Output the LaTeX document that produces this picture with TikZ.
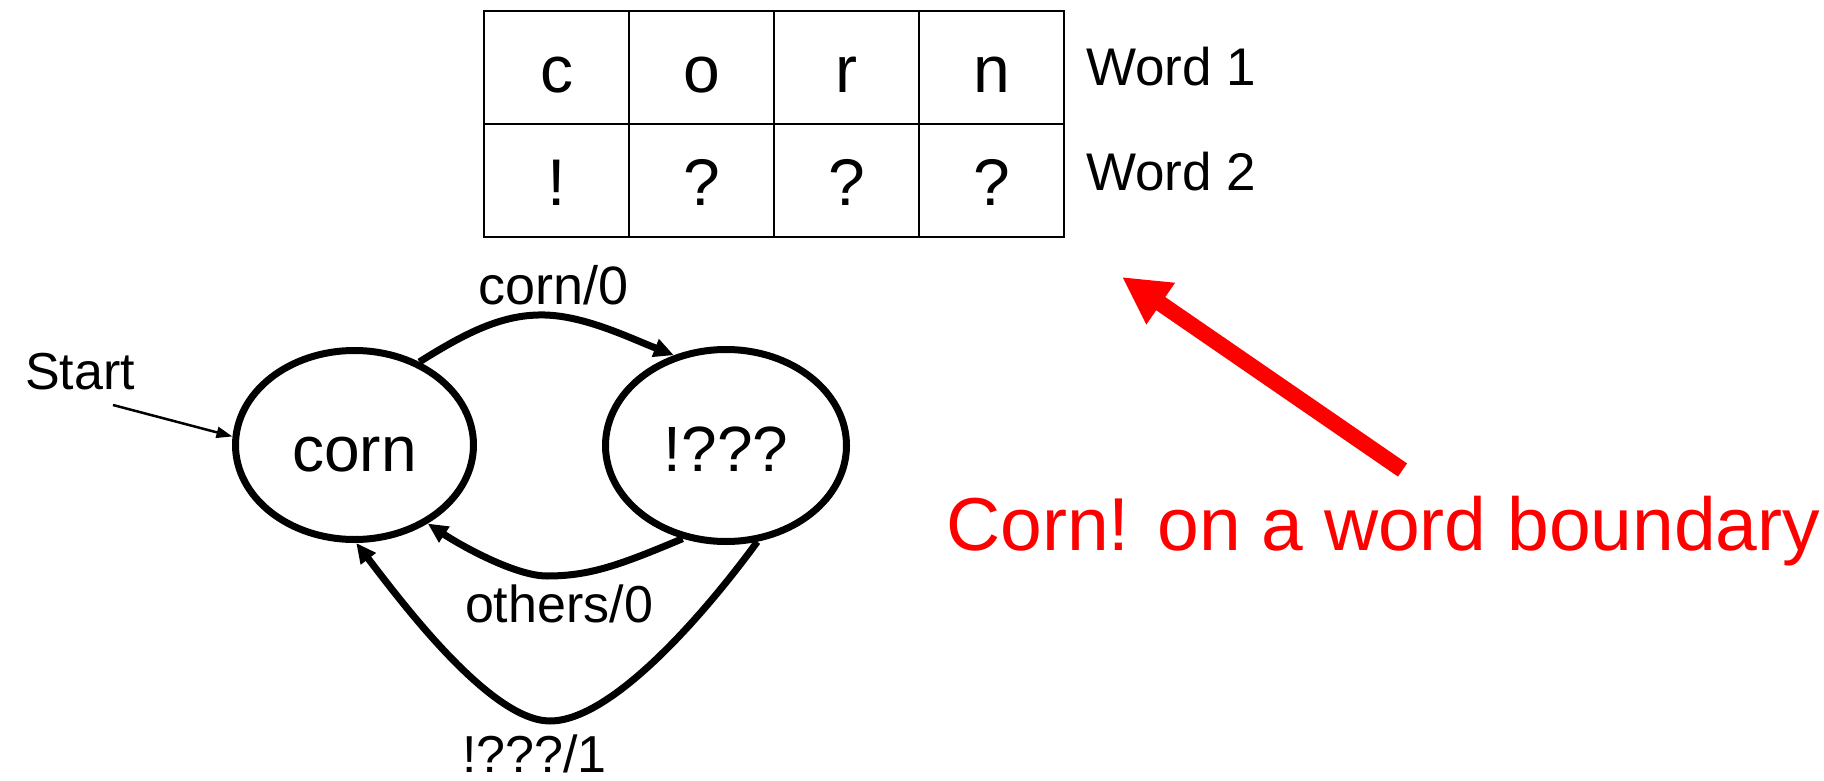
\documentclass[tikz,border=0pt]{standalone}
\usepackage{fontspec}
\setmainfont{Liberation Sans}
\usetikzlibrary{arrows.meta,shapes.geometric}
\newcommand{\fsz}[1]{\fontsize{#1pt}{#1pt}\selectfont}
\begin{document}
\begin{tikzpicture}[x=1pt,y=-1pt,
  cell/.style={draw, line width=2pt, minimum width=145pt, minimum height=113pt, inner sep=0pt, text height=50pt, text depth=0pt, font=\fsz{66}},
  state/.style={draw, ellipse, line width=7pt, minimum width=238pt, minimum height=189pt, inner sep=0pt, text height=52pt, text depth=0pt, font=\fsz{64}},
  edge/.style={line width=7pt, -{Triangle[length=20pt,width=18pt]}},
  lbl/.style={inner sep=0pt, anchor=base, font=\fsz{53}},
  bigarrow/.style={red, line width=16pt, -{Triangle[length=47pt,width=47pt]}},
]
\useasboundingbox (0,0) rectangle (1824,781);

% table
\node[cell] (c11) at (556.5,67.5) {c};
\node[cell] (c12) at (701.5,67.5) {o};
\node[cell] (c13) at (846.5,67.5) {r};
\node[cell] (c14) at (991.5,67.5) {n};
\node[cell] (c21) at (556.5,180.5) {!};
\node[cell] (c22) at (701.5,180.5) {?};
\node[cell] (c23) at (846.5,180.5) {?};
\node[cell] (c24) at (991.5,180.5) {?};
\node[lbl, anchor=base west] (w1) at (1086,86) {Word 1};
\node[lbl, anchor=base west] (w2) at (1086,190) {Word 2};

% states
\node[state] (corn) at (354.5,445) {corn};
\node[state, minimum width=241pt, minimum height=192pt] (bang) at (726,445.5) {!???};

% start
\node[lbl, anchor=base west, font=\fsz{52}] (start) at (25,389) {Start};
\coordinate (st) at (113,405);
\draw[line width=2.5pt, -{Triangle[length=16pt,width=11pt]}] (st) -- (corn.176);

% edges
\draw[edge] (corn.52) .. controls (470,330) and (505,314) .. (545,315)
            .. controls (585,316) and (630,338) .. (bang.120);
\draw[edge] (bang.245) .. controls (620,565) and (590,576) .. (547,576)
            .. controls (515,576) and (460,545) .. (corn.313);
\draw[edge] (bang.288) .. controls (700,620) and (610,721) .. (550,721)
            .. controls (490,721) and (400,600) .. (corn.271);

\node[lbl, font=\fsz{54}] (l1) at (553.5,304) {corn/0};
\node[lbl, font=\fsz{52}] (l2) at (559,622) {others/0};
\node[lbl, font=\fsz{52}] (l3) at (534.5,772) {!???/1};

% red arrow and message
\coordinate (rtail) at (1402.5,470);
\coordinate (rtip) at (1122,277);
\draw[bigarrow] (rtail) -- (rtip);
\node[anchor=base west, inner sep=0pt, text=red, font=\fsz{75}] (msg) at (946,550) {Corn! on a word boundary};
\end{tikzpicture}
\end{document}
